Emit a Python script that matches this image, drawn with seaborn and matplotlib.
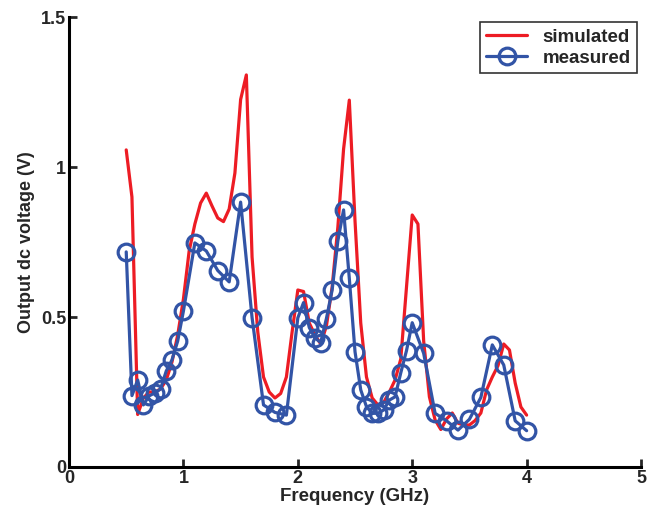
import numpy as np
import pandas as pd
import matplotlib
matplotlib.use('Agg')
import matplotlib.pyplot as plt
import seaborn as sns

# 仿真数据 (0.05 GHz 间隔)
sim_freq = [0.5, 0.55, 0.6, 0.65, 0.7, 0.75, 0.8, 0.85, 0.9, 0.95,
            1.0, 1.05, 1.1, 1.15, 1.2, 1.25, 1.3, 1.35, 1.4, 1.45,
            1.5, 1.55, 1.6, 1.65, 1.7, 1.75, 1.8, 1.85, 1.9, 1.95,
            2.0, 2.05, 2.1, 2.15, 2.2, 2.25, 2.3, 2.35, 2.4, 2.45,
            2.5, 2.55, 2.6, 2.65, 2.7, 2.75, 2.8, 2.85, 2.9, 2.95,
            3.0, 3.05, 3.1, 3.15, 3.2, 3.25, 3.3, 3.35, 3.4, 3.45,
            3.5, 3.55, 3.6, 3.65, 3.7, 3.75, 3.8, 3.85, 3.9, 3.95, 4.0]
sim_volt = [1.057, 0.9, 0.175, 0.23, 0.25, 0.25, 0.26, 0.29, 0.35, 0.44,
            0.56, 0.72, 0.81, 0.88, 0.913, 0.87, 0.83, 0.818, 0.86, 0.98,
            1.225, 1.307, 0.7, 0.45, 0.3, 0.25, 0.23, 0.245, 0.3, 0.45,
            0.59, 0.585, 0.48, 0.44, 0.41, 0.47, 0.6, 0.8, 1.06, 1.223,
            0.82, 0.48, 0.3, 0.23, 0.207, 0.215, 0.25, 0.29, 0.36, 0.6,
            0.84, 0.81, 0.42, 0.234, 0.157, 0.125, 0.16, 0.18, 0.146, 0.14,
            0.14, 0.155, 0.18, 0.257, 0.3, 0.338, 0.41, 0.39, 0.28, 0.2, 0.173]

# 测量数据
meas_freq = [0.5, 0.55, 0.6, 0.65, 0.7, 0.75, 0.8, 0.85, 0.9, 0.95,
             1.0, 1.1, 1.2, 1.3, 1.4, 1.5, 1.6, 1.7, 1.8, 1.9,
             2.0, 2.05, 2.1, 2.15, 2.2, 2.25, 2.3, 2.35, 2.4, 2.45,
             2.5, 2.55, 2.6, 2.65, 2.7, 2.75, 2.8, 2.85, 2.9, 2.95,
             3.0, 3.1, 3.2, 3.3, 3.4, 3.5, 3.6, 3.7, 3.8, 3.9, 4.0]
meas_volt = [0.717, 0.238, 0.29, 0.207, 0.237, 0.247, 0.26, 0.32, 0.357, 0.42,
             0.52, 0.747, 0.72, 0.655, 0.617, 0.883, 0.498, 0.207, 0.182, 0.173,
             0.497, 0.548, 0.465, 0.43, 0.415, 0.495, 0.59, 0.754, 0.857, 0.629,
             0.384, 0.257, 0.201, 0.179, 0.179, 0.19, 0.223, 0.234, 0.314, 0.388,
             0.481, 0.379, 0.179, 0.154, 0.123, 0.159, 0.232, 0.407, 0.34, 0.154, 0.121]

x_ticks = [0, 1, 2, 3, 4, 5]
y_ticks = [0, 0.5, 1, 1.5]
y_labels = ['0', '0.5', '1', '1.5']

sns.set_style('ticks')
plt.rcParams['font.family'] = ['Liberation Sans', 'DejaVu Sans']
plt.rcParams['font.weight'] = 'bold'

sim_df = pd.DataFrame({'freq': sim_freq, 'volt': sim_volt})
meas_df = pd.DataFrame({'freq': meas_freq, 'volt': meas_volt})

fig = plt.figure(figsize=(6.58, 5.19), dpi=100)
ax = fig.add_axes([0.1049, 0.1002, 0.8693, 0.867])

sns.lineplot(data=sim_df, x='freq', y='volt', ax=ax, color='#ED1C24',
             linewidth=2.3, label='simulated', sort=False)
sns.lineplot(data=meas_df, x='freq', y='volt', ax=ax, color='#3254A6',
             linewidth=2.3, marker='o', markersize=12, markerfacecolor='none',
             markeredgecolor='#3254A6', markeredgewidth=2.3,
             label='measured', sort=False)

ax.set_xlim(0, 5)
ax.set_ylim(0, 1.5)
ax.set_xticks(x_ticks)
ax.set_yticks(y_ticks)
ax.set_yticklabels(y_labels)
ax.tick_params(direction='in', length=6, width=2, labelsize=13, pad=2)
for s in ['left', 'bottom']:
    ax.spines[s].set_linewidth(2.2)
    ax.spines[s].set_color('black')
sns.despine(ax=ax)

ax.set_xlabel('Frequency (GHz)', fontsize=13.5, fontweight='bold', labelpad=1)
ax.set_ylabel('Output dc voltage (V)', fontsize=13, fontweight='bold', labelpad=4)

leg = ax.legend(loc='upper right', fontsize=13.5, frameon=True, fancybox=False,
                edgecolor='black', borderpad=0.35, handlelength=2.2,
                labelspacing=0.2, borderaxespad=0,
                bbox_to_anchor=(0.993, 0.989))
leg.get_frame().set_linewidth(1.2)

fig.savefig('out.png', dpi=100)
